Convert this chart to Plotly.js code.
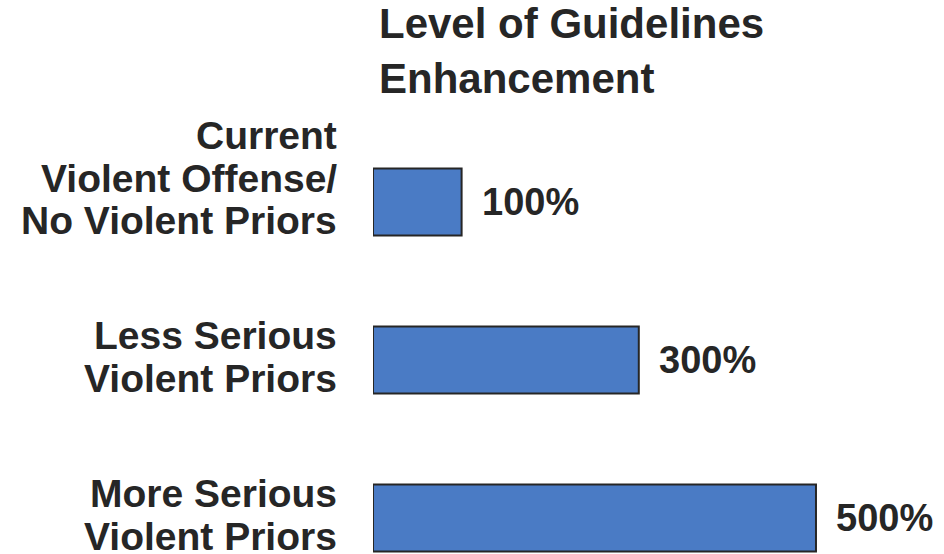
<!DOCTYPE html>
<html>
<head>
<meta charset="utf-8">
<script src="https://cdn.plot.ly/plotly-3.0.1.min.js"></script>
<style>html,body{margin:0;padding:0;background:#fff;}#chart{width:944px;height:554px;}</style>
</head>
<body>
<div id="chart"></div>
<script>
var labelLines = [
  ['Current', 'Violent Offense/', 'No Violent Priors'],
  ['Less Serious', 'Violent Priors'],
  ['More Serious', 'Violent Priors']
];
var categories = ['Current Violent Offense/No Violent Priors', 'Less Serious Violent Priors', 'More Serious Violent Priors'];
var values = [100, 300, 500];
var valueLabels = ['100%', '300%', '500%'];

var FONT = 'Liberation Sans, Arial, sans-serif';
var TXT = '#262626';

var annotations = [];
categories.forEach(function (c, k) {
  var lines = labelLines[k];
  var n = lines.length;
  lines.forEach(function (ln, i) {
    var off = 18.5 - (n - 1 - i) * 42.5;
    annotations.push({
      xref: 'x', yref: 'y', x: 0, y: c,
      xanchor: 'right', yanchor: 'middle',
      xshift: -34, yshift: -off,
      text: '<b>' + ln + '</b>', showarrow: false,
      font: {family: FONT, size: 39, color: TXT}
    });
  });
  annotations.push({
    xref: 'x', yref: 'y', x: values[k], y: c,
    xanchor: 'left', yanchor: 'middle', xshift: 18,
    text: '<b>' + valueLabels[k] + '</b>', showarrow: false,
    font: {family: FONT, size: 38, color: TXT}
  });
});

var trace = {
  type: 'bar', orientation: 'h',
  x: values, y: categories,
  marker: {color: '#4a7bc5', line: {color: '#262626', width: 2}},
  hoverinfo: 'none'
};

var layout = {
  width: 944, height: 554,
  margin: {l: 373, r: 0, t: 123, b: 0, pad: 0},
  paper_bgcolor: '#ffffff', plot_bgcolor: '#ffffff',
  showlegend: false,
  bargap: 0.576,
  title: {
    text: '<b>Level of Guidelines<br>Enhancement</b>',
    font: {family: FONT, size: 42, color: TXT},
    xref: 'container', x: 379 / 944, xanchor: 'left',
    yref: 'container', y: 1 - 34 / 554, yanchor: 'top', pad: {t: 4}
  },
  xaxis: {range: [0, 644.5], showgrid: false, zeroline: false, showline: false, showticklabels: false, ticks: ''},
  yaxis: {type: 'category', range: [2.228, -0.5], showgrid: false, zeroline: false, showline: false, showticklabels: false, ticks: ''},
  annotations: annotations
};

Plotly.newPlot('chart', [trace], layout, {staticPlot: true});
</script>
</body>
</html>
